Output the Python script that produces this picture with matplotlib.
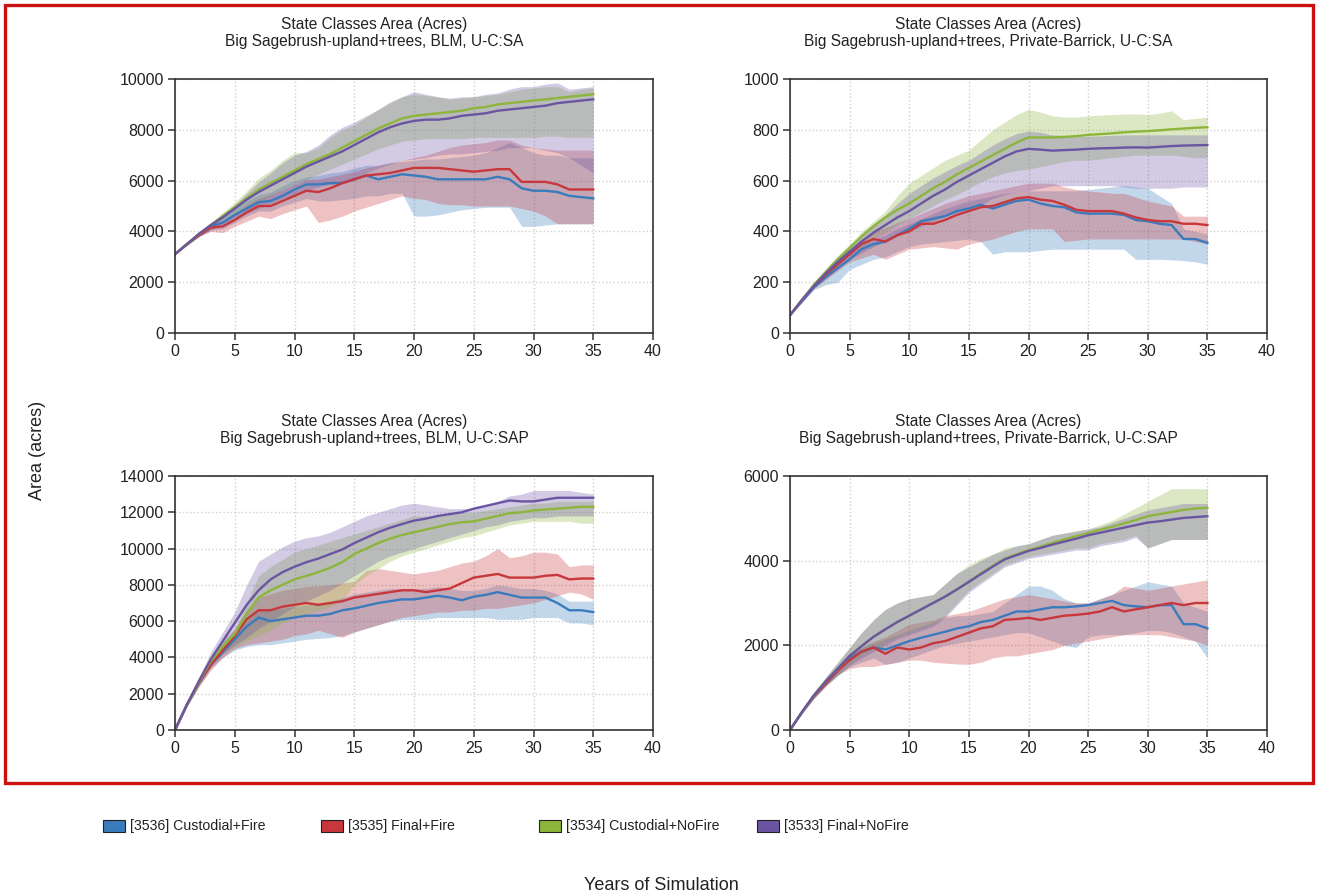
import numpy as np
import matplotlib
matplotlib.use("Agg")
import matplotlib.pyplot as plt
from matplotlib.patches import Rectangle

plt.rcParams['font.family'] = ['Liberation Sans', 'DejaVu Sans']

years = list(range(0, 36))

series_names = ["[3536] Custodial+Fire", "[3535] Final+Fire",
                "[3534] Custodial+NoFire", "[3533] Final+NoFire"]
colors = ["#3a7bbd", "#c8373b", "#8db53c", "#6b55a3"]

titles = ["State Classes Area (Acres)\nBig Sagebrush-upland+trees, BLM, U-C:SA",
          "State Classes Area (Acres)\nBig Sagebrush-upland+trees, Private-Barrick, U-C:SA",
          "State Classes Area (Acres)\nBig Sagebrush-upland+trees, BLM, U-C:SAP",
          "State Classes Area (Acres)\nBig Sagebrush-upland+trees, Private-Barrick, U-C:SAP"]
y_max = [10000, 1000, 14000, 6000]
y_step = [2000, 200, 2000, 2000]

# ---- top-left: BLM, U-C:SA
tl_blue = [3100,3500,3850,4200,4350,4650,4900,5150,5200,5400,5650,5850,5850,5900,5900,6050,6200,6050,6150,6250,6200,6150,6050,6050,6050,6050,6050,6150,6050,5700,5600,5600,5550,5400,5350,5300]
tl_red = [3100,3500,3850,4150,4200,4450,4750,5000,5000,5200,5400,5600,5550,5700,5900,6050,6200,6250,6300,6400,6500,6500,6500,6450,6400,6350,6400,6450,6450,5950,5950,5950,5850,5650,5650,5650]
tl_green = [3100,3500,3900,4250,4600,4950,5300,5650,5900,6150,6400,6650,6850,7050,7300,7550,7800,8050,8250,8450,8550,8600,8650,8700,8750,8850,8900,9000,9050,9100,9150,9200,9250,9300,9350,9400]
tl_purple = [3100,3500,3900,4250,4550,4900,5250,5550,5800,6050,6300,6550,6750,6950,7150,7400,7650,7900,8100,8250,8350,8400,8400,8450,8550,8600,8650,8750,8800,8850,8900,8950,9050,9100,9150,9200]
tl_blue_lo = [3100,3450,3800,4050,4100,4350,4600,4800,4800,5000,5150,5300,5200,5200,5250,5300,5400,5400,5500,5500,4600,4600,4650,4750,4850,4900,4950,4950,4950,4200,4200,4250,4300,4300,4300,4300]
tl_blue_hi = [3100,3550,3900,4300,4550,4900,5200,5450,5550,5800,6000,6150,6200,6300,6350,6500,6600,6600,6700,6750,6800,6850,6850,6900,6950,7000,7100,7300,7500,7300,7100,7000,7000,6900,6900,6900]
tl_red_lo = [3100,3450,3800,4000,3950,4200,4400,4600,4500,4700,4850,5000,4350,4450,4600,4800,4950,5100,5250,5400,5300,5250,5100,5050,5050,5000,5000,5000,5000,4900,4800,4600,4300,4300,4300,4300]
tl_red_hi = [3100,3550,3900,4250,4400,4700,5050,5300,5450,5650,5850,6050,6050,6150,6250,6350,6500,6600,6700,6800,6900,7000,7150,7300,7400,7450,7500,7600,7600,7400,7300,7250,7200,7200,7200,7200]
tl_green_lo = [3100,3450,3800,4100,4350,4600,4900,5150,5400,5650,5850,6050,6250,6450,6650,6850,7050,7250,7400,7550,7600,7650,7650,7650,7650,7700,7700,7700,7700,7700,7700,7750,7750,7700,7700,7700]
tl_green_hi = [3100,3550,3950,4350,4750,5150,5600,6100,6400,6800,7100,7100,7300,7700,8000,8200,8500,8800,9050,9300,9400,9350,9300,9200,9250,9300,9350,9400,9500,9600,9650,9700,9700,9500,9600,9650]
tl_purple_lo = [3100,3450,3800,4050,4250,4450,4700,4900,5100,5300,5450,5600,5750,5850,5950,6100,6300,6500,6650,6800,6850,6900,7000,7050,7050,7100,7150,7200,7300,7300,7300,7200,7100,6900,6600,6300]
tl_purple_hi = [3100,3550,3950,4300,4700,5050,5500,5950,6300,6700,7000,7150,7400,7800,8100,8300,8550,8800,9100,9300,9500,9400,9300,9250,9300,9300,9400,9450,9600,9700,9700,9800,9850,9600,9650,9700]

# ---- top-right: Private-Barrick, U-C:SA
tr_blue = [70,125,180,220,255,290,330,350,360,385,410,440,450,460,480,490,505,490,505,520,525,510,500,495,475,470,470,470,465,445,440,430,425,370,370,355]
tr_red = [70,130,185,230,270,310,350,370,360,385,400,430,430,445,465,480,495,500,515,530,535,525,520,505,485,480,480,480,470,455,445,440,440,430,430,425]
tr_green = [70,130,190,240,290,335,380,420,455,485,510,540,570,595,625,650,675,700,725,750,770,770,770,772,775,780,783,786,790,793,795,798,802,805,808,810]
tr_purple = [70,130,185,235,280,320,360,395,425,455,480,510,540,565,595,620,645,670,695,715,725,722,718,720,722,725,727,728,730,731,730,733,736,738,739,740]
tr_blue_lo = [70,120,170,190,200,250,270,290,300,320,340,350,355,360,365,370,360,310,320,320,320,325,330,330,330,330,330,330,330,290,290,290,288,285,280,270]
tr_blue_hi = [70,130,185,225,270,310,345,370,385,410,430,450,470,490,505,520,530,540,550,555,560,560,560,560,560,565,570,575,580,575,570,540,510,410,400,390]
tr_red_lo = [70,125,175,210,245,280,295,310,290,310,330,335,340,335,330,350,360,370,385,400,410,410,410,360,365,370,370,370,370,370,370,370,370,370,360,350]
tr_red_hi = [70,135,190,240,290,330,370,400,415,435,450,470,490,510,525,540,550,560,570,580,590,590,590,575,565,560,555,550,550,535,520,510,500,460,460,460]
tr_green_lo = [70,125,180,225,270,310,340,370,395,425,450,475,500,525,545,570,595,615,630,640,645,655,665,675,680,680,685,690,695,700,700,700,700,695,690,690]
tr_green_hi = [70,135,200,255,305,350,400,440,480,540,590,620,650,680,700,720,760,800,830,860,880,870,855,850,850,855,858,860,862,863,860,865,875,840,845,850]
tr_purple_lo = [70,120,175,215,255,290,315,340,360,385,400,420,440,460,475,490,505,530,545,555,560,570,580,580,580,580,580,580,575,570,570,570,570,575,575,575]
tr_purple_hi = [70,135,195,250,300,340,390,430,465,510,550,580,610,635,660,680,710,740,765,785,795,790,780,778,775,775,776,778,780,780,780,780,780,780,780,780]

# ---- bottom-left: BLM, U-C:SAP
bl_blue = [0,1400,2600,3600,4300,5000,5700,6200,6000,6100,6200,6300,6300,6400,6600,6700,6850,7000,7100,7200,7200,7300,7400,7300,7150,7350,7450,7600,7450,7300,7300,7300,7000,6600,6600,6500]
bl_red = [0,1400,2600,3600,4400,5200,6100,6600,6600,6800,6900,7000,6900,7000,7100,7300,7400,7500,7600,7700,7700,7600,7700,7800,8100,8400,8500,8600,8400,8400,8400,8500,8550,8300,8350,8350]
bl_green = [0,1400,2650,3800,4600,5300,6400,7300,7700,8000,8300,8500,8700,8950,9250,9700,10000,10300,10550,10750,10900,11050,11200,11350,11450,11500,11650,11800,11950,12000,12100,12150,12200,12250,12300,12300]
bl_purple = [0,1400,2700,3900,4900,5900,6900,7700,8300,8700,9000,9250,9450,9700,9950,10300,10600,10900,11150,11350,11540,11650,11800,11900,12000,12200,12350,12500,12650,12600,12600,12700,12800,12800,12800,12800]
bl_blue_lo = [0,1300,2400,3400,4000,4400,4600,4700,4700,4800,4900,5000,5050,5100,5200,5400,5600,5800,6000,6100,6100,6100,6200,6200,6200,6200,6200,6100,6100,6100,6200,6200,6200,5900,5900,5800]
bl_blue_hi = [0,1450,2700,3800,4600,5300,6000,6600,6600,6700,6800,6900,7000,7100,7300,7500,7600,7700,7800,7800,7800,7800,7900,7800,7700,7700,7800,8000,7900,7800,7800,7700,7500,7100,7100,7100]
bl_red_lo = [0,1300,2400,3300,4000,4500,4700,4800,4900,5000,5200,5300,5500,5300,5100,5400,5600,5800,6000,6200,6300,6400,6500,6500,6600,6600,6700,6700,6800,6900,7000,7200,7400,7600,7500,7200]
bl_red_hi = [0,1450,2750,3900,4800,5600,6600,7300,7500,7700,7800,7900,7950,8000,8100,8200,8800,8900,8800,8700,8600,8700,8800,9000,9200,9300,9600,10000,9500,9600,9800,9800,9700,9000,9100,9100]
bl_green_lo = [0,1300,2500,3500,4200,4600,4900,5200,5500,5900,6200,6400,6600,6800,7200,8000,8500,8900,9300,9600,9800,10000,10200,10400,10600,10700,10900,11100,11300,11400,11500,11500,11500,11500,11400,11400]
bl_green_hi = [0,1450,2800,4100,5000,5500,7000,8500,9000,9400,9800,10000,10200,10400,10600,10800,11000,11200,11400,11600,11800,11800,11800,11900,12000,12000,12100,12200,12300,12400,12500,12500,12600,12600,12600,12600]
bl_purple_lo = [0,1300,2500,3500,4200,4700,5100,5600,6000,6400,6800,7100,7400,7700,8100,8500,8900,9300,9600,9800,10000,10200,10400,10600,10800,11000,11200,11300,11500,11600,11700,11700,11800,11800,11800,11800]
bl_purple_hi = [0,1500,2900,4300,5400,6500,8000,9300,9700,10100,10400,10600,10700,10900,11200,11500,11800,12000,12200,12400,12500,12400,12300,12200,12200,12200,12400,12600,12900,13000,13200,13200,13200,13200,13100,13000]

# ---- bottom-right: Private-Barrick, U-C:SAP
br_blue = [0,420,800,1100,1400,1700,1850,1950,1900,2000,2100,2180,2250,2320,2400,2450,2550,2600,2700,2800,2800,2850,2900,2900,2920,2950,3000,3050,2950,2920,2900,2950,2950,2500,2500,2400]
br_red = [0,420,800,1100,1400,1650,1850,1950,1800,1950,1900,1950,2050,2100,2200,2300,2400,2450,2600,2620,2650,2600,2650,2700,2720,2750,2800,2900,2800,2850,2900,2950,3000,2950,3000,3000]
br_green = [0,420,820,1150,1450,1750,1980,2200,2380,2550,2700,2850,3000,3150,3320,3500,3700,3880,4050,4150,4250,4330,4420,4500,4580,4650,4730,4800,4880,4960,5050,5100,5150,5200,5230,5250]
br_purple = [0,420,820,1150,1450,1750,1980,2200,2380,2550,2700,2850,3000,3150,3320,3500,3680,3860,4030,4130,4230,4300,4380,4450,4520,4600,4660,4720,4780,4840,4900,4930,4970,5010,5030,5050]
br_blue_lo = [0,400,750,1050,1300,1500,1600,1700,1550,1600,1700,1800,1900,2000,2050,2100,2150,2200,2250,2300,2300,2200,2100,2000,1950,2200,2250,2250,2250,2300,2350,2350,2300,2200,2100,1700]
br_blue_hi = [0,440,850,1200,1500,1800,1950,2050,2150,2250,2350,2450,2550,2650,2700,2700,2750,2800,3000,3200,3400,3400,3300,3100,3000,3000,3100,3200,3300,3400,3500,3450,3400,3000,2900,2800]
br_red_lo = [0,400,750,1050,1300,1450,1500,1500,1550,1600,1650,1650,1600,1580,1560,1550,1600,1700,1750,1750,1800,1850,1900,2000,2050,2100,2150,2200,2250,2250,2250,2250,2200,2150,2100,2000]
br_red_hi = [0,440,850,1200,1500,1800,1950,2100,2200,2350,2500,2550,2600,2700,2750,2800,2900,3000,3100,3150,3200,3150,3100,3050,3000,3000,3100,3200,3400,3350,3300,3350,3400,3450,3500,3550]
br_green_lo = [0,380,750,1050,1300,1550,1750,1900,2050,2200,2300,2400,2500,2700,3000,3300,3500,3700,3900,4000,4100,4150,4200,4250,4300,4300,4400,4450,4500,4600,4300,4400,4500,4500,4500,4500]
br_green_hi = [0,450,880,1250,1600,1950,2300,2600,2850,3000,3100,3150,3200,3450,3700,3900,4050,4150,4300,4350,4400,4500,4600,4650,4700,4750,4850,4950,5100,5250,5400,5550,5700,5700,5700,5700]
br_purple_lo = [0,380,740,1030,1280,1520,1700,1850,2000,2150,2250,2350,2450,2650,2950,3250,3450,3650,3850,3950,4050,4100,4150,4200,4250,4250,4350,4400,4450,4550,4300,4400,4500,4500,4500,4500]
br_purple_hi = [0,450,880,1250,1600,1950,2300,2600,2850,3000,3100,3150,3200,3450,3700,3850,4000,4150,4250,4350,4400,4500,4600,4650,4700,4750,4800,4900,5000,5100,5200,5250,5300,5350,5350,5350]

panels = [
    [(tl_blue, tl_blue_lo, tl_blue_hi), (tl_red, tl_red_lo, tl_red_hi),
     (tl_green, tl_green_lo, tl_green_hi), (tl_purple, tl_purple_lo, tl_purple_hi)],
    [(tr_blue, tr_blue_lo, tr_blue_hi), (tr_red, tr_red_lo, tr_red_hi),
     (tr_green, tr_green_lo, tr_green_hi), (tr_purple, tr_purple_lo, tr_purple_hi)],
    [(bl_blue, bl_blue_lo, bl_blue_hi), (bl_red, bl_red_lo, bl_red_hi),
     (bl_green, bl_green_lo, bl_green_hi), (bl_purple, bl_purple_lo, bl_purple_hi)],
    [(br_blue, br_blue_lo, br_blue_hi), (br_red, br_red_lo, br_red_hi),
     (br_green, br_green_lo, br_green_hi), (br_purple, br_purple_lo, br_purple_hi)],
]

W, H = 1317, 896
fig = plt.figure(figsize=(W / 100, H / 100), dpi=100)

# axes boxes in pixels: left, right, top, bottom
boxes = [(175, 653, 79, 333), (790, 1267, 79, 333),
         (175, 653, 476, 730), (790, 1267, 476, 730)]

for i, (l, r, t, b) in enumerate(boxes):
    ax = fig.add_axes([l / W, 1 - b / H, (r - l) / W, (b - t) / H])
    for (mean, lo, hi), c in zip(panels[i], colors):
        ax.fill_between(years, lo, hi, color=c, alpha=0.3, linewidth=0)
    for (mean, lo, hi), c in zip(panels[i], colors):
        ax.plot(years, mean, color=c, linewidth=1.7)
    ax.set_xlim(0, 40)
    ax.set_ylim(0, y_max[i])
    ax.set_xticks(range(0, 41, 5))
    ax.set_yticks(np.arange(0, y_max[i] + 1, y_step[i]))
    ax.grid(True, linestyle=':', color='#cfcfcf', linewidth=1)
    ax.set_axisbelow(True)
    for s in ax.spines.values():
        s.set_color('#333333')
        s.set_linewidth(1.2)
    ax.tick_params(direction='out', length=5, width=1.1, color='#333333',
                   labelsize=11.5, labelcolor='#222222', pad=3)
    # titles sit a bit left of the axes centre, as in the original
    fig.text(((l + r) / 2 - 40) / W, 1 - (t - 46) / H, titles[i], ha='center', va='center',
             fontsize=11.2, color='#222222', linespacing=1.1)

fig.text(38 / W, 1 - 450 / H, "Area (acres)", rotation=90, ha='center', va='center',
         fontsize=13, color='#222222')
fig.text(661 / W, 1 - 885 / H, "Years of Simulation", ha='center', va='center',
         fontsize=13, color='#222222')

# legend drawn by hand: fixed-width slots like the original
for k, (name, c) in enumerate(zip(series_names, colors)):
    x0 = 103 + 218 * k
    fig.add_artist(Rectangle((x0 / W, 1 - 832 / H), 22 / W, 12 / H, transform=fig.transFigure,
                             facecolor=c, edgecolor='#222222', linewidth=0.8))
    fig.text((x0 + 27) / W, 1 - 826 / H, name, ha='left', va='center',
             fontsize=10.2, color='#222222')

fig.add_artist(Rectangle((5 / W, 1 - 783 / H), 1308 / W, 778 / H, transform=fig.transFigure,
                         fill=False, edgecolor='#cc1111', linewidth=2.4))

fig.savefig("out.png", dpi=100)
